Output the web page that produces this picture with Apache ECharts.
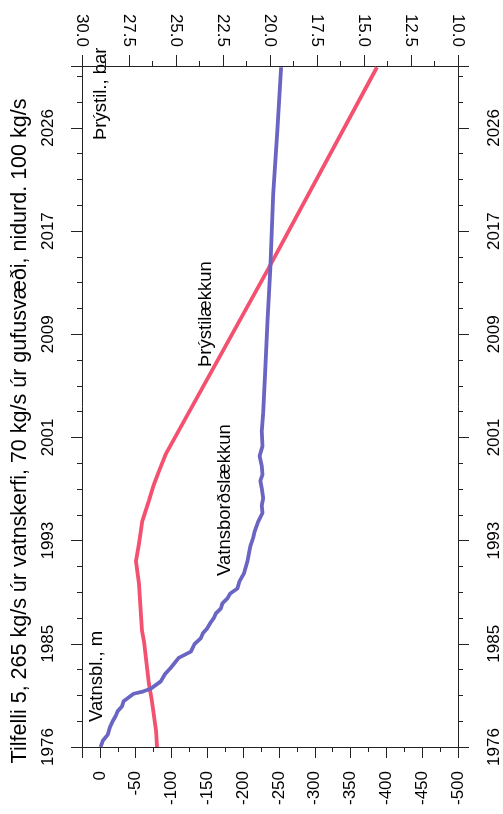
<!DOCTYPE html>
<html><head><meta charset="utf-8">
<script src="https://cdn.jsdelivr.net/npm/echarts@6/dist/echarts.min.js"></script>
<style>html,body{margin:0;padding:0;background:#fff}#c{width:503px;height:814px}</style>
</head><body><div id="c"></div>
<script>
// ---- data ----
const startYear = 1976;
const yearTickLabels = ['1976','1985','1993','2001','2009','2017','2026'];
const titleText = 'Tilfelli 5, 265 kg/s úr vatnskerfi, 70 kg/s úr gufusvæði, nidurd. 100 kg/s';

// Water level drawdown (m), left/bottom scale
const waterYears = [1976.0,1976.5,1977.0,1977.6,1978.1,1978.5,1978.9,1979.3,1979.7,1980.3,1980.5,1980.7,1981.3,1981.9,1982.4,1983.2,1983.7,1984.3,1984.8,1985.2,1985.6,1986.0,1986.4,1986.8,1987.2,1987.6,1988.0,1988.4,1988.8,1989.4,1990.0,1991.0,1992.2,1992.9,1993.4,1994.2,1994.9,1995.5,1996.1,1996.9,1997.5,1998.0,1998.7,1999.5,2000.3,2001.5,2003.0,2006.6,2010.4,2014.7,2020.7,2026.0,2030.9];
const waterLevel = [-1,-4,-11,-14,-18,-22,-25,-31,-33,-47,-61,-71,-85,-91,-99,-110,-127,-132,-141,-144,-150,-154,-159,-162,-169,-171,-178,-182,-192,-195,-201,-206,-210,-214,-216,-221,-227,-226,-228,-226,-224,-227,-226,-223,-227,-226,-228,-231,-234,-238,-242,-248,-253];

// Pressure (bar), right/top scale
const pressureYears = [1976.0,1977.3,1979.7,1981.1,1984.5,1985.4,1989.2,1991.0,1992.4,1994.2,1995.9,1997.1,1998.3,1999.7,2014.6,2030.9];
const pressure = [26.01,26.06,26.28,26.44,26.70,26.81,26.97,27.13,26.97,26.80,26.44,26.20,25.90,25.53,20.10,14.31];

const labels = {waterAxis:'Vatnsbl., m', pressureAxis:'Þrýstil., bar', waterCurve:'Vatnsborðslækkun', pressureCurve:'Þrýstilækkun'};

// ---- chart ----
const FONT = '"Liberation Sans", Arial, Helvetica, sans-serif';
const AX = '#222';
const lab = {color:'#000', fontSize:17, fontFamily:FONT};
const yStep = 50/6;
const yearFmt = v => { const k = v / yStep, r = Math.round(k); return (Math.abs(k - r) < 1e-6 && r < yearTickLabels.length) ? yearTickLabels[r] : ''; };
const noSplit = {show:false};

const chart = echarts.init(document.getElementById('c'), null, {renderer:'canvas'});
const majorX = (pos, min, max, interval, fmt, margin) => ({
  type:'value', position:pos, min, max, interval, inverse:true,
  axisLine:{show:true, onZero:false, lineStyle:{color:AX, width:1}},
  axisTick:{show:true, length:11, lineStyle:{color:AX}},
  axisLabel:{...lab, rotate:90, margin, formatter:fmt},
  splitLine:noSplit
});
const minorX = (pos, min, max, interval) => ({
  type:'value', position:pos, min, max, interval, inverse:true,
  axisLine:{show:false, onZero:false}, axisTick:{show:true, length:5, lineStyle:{color:AX}},
  axisLabel:{show:false}, splitLine:noSplit
});
const majorY = (pos, margin) => ({
  type:'value', position:pos, min:0, max:55, interval:yStep,
  axisLine:{show:true, onZero:false, lineStyle:{color:AX, width:1}},
  axisTick:{show:true, length:11, lineStyle:{color:AX}},
  axisLabel:{...lab, rotate:90, margin, formatter:yearFmt},
  splitLine:noSplit
});
const minorY = (pos) => ({
  type:'value', position:pos, min:0, max:55, interval:yStep/4,
  axisLine:{show:false, onZero:false}, axisTick:{show:true, length:5, lineStyle:{color:AX}},
  axisLabel:{show:false}, splitLine:noSplit
});

const txt = (text, x, y, align, size) => ({
  type:'text', x, y, rotation:Math.PI/2, silent:true,
  style:{text, fill:'#000', font:`${size}px ${FONT}`, align, verticalAlign:'middle'}
});

chart.setOption({
  animation:false,
  backgroundColor:'#fff',
  grid:{left:82, right:45, top:66, bottom:67, containLabel:false},
  xAxis:[
    majorX('bottom', -500, 25, 50, v => v > 0 ? '' : String(v), 24),
    minorX('bottom', -500, 25, 25),
    majorX('top', 10, 30, 2.5, v => v.toFixed(1), 19),
    minorX('top', 10, 30, 1.25)
  ],
  yAxis:[ majorY('left', 25), minorY('left'), majorY('right', 28), minorY('right') ],
  series:[
    {type:'line', xAxisIndex:0, yAxisIndex:0, showSymbol:false, symbol:'none',
     lineStyle:{color:'#6a64c2', width:3.8}, z:3,
     data: waterYears.map((y,i) => [waterLevel[i], y - startYear])},
    {type:'line', xAxisIndex:2, yAxisIndex:0, showSymbol:false, symbol:'none',
     lineStyle:{color:'#f4506f', width:3.8}, z:2,
     data: pressureYears.map((y,i) => [pressure[i], y - startYear])}
  ],
  graphic:[
    txt(titleText, 20, 431, 'center', 21.5),
    txt(labels.waterAxis, 97, 722, 'left', 18.5),
    txt(labels.pressureAxis, 101, 140, 'left', 18.5),
    txt(labels.waterCurve, 225, 576, 'left', 18.5),
    txt(labels.pressureCurve, 206, 367, 'left', 18.5)
  ]
});
</script></body></html>
